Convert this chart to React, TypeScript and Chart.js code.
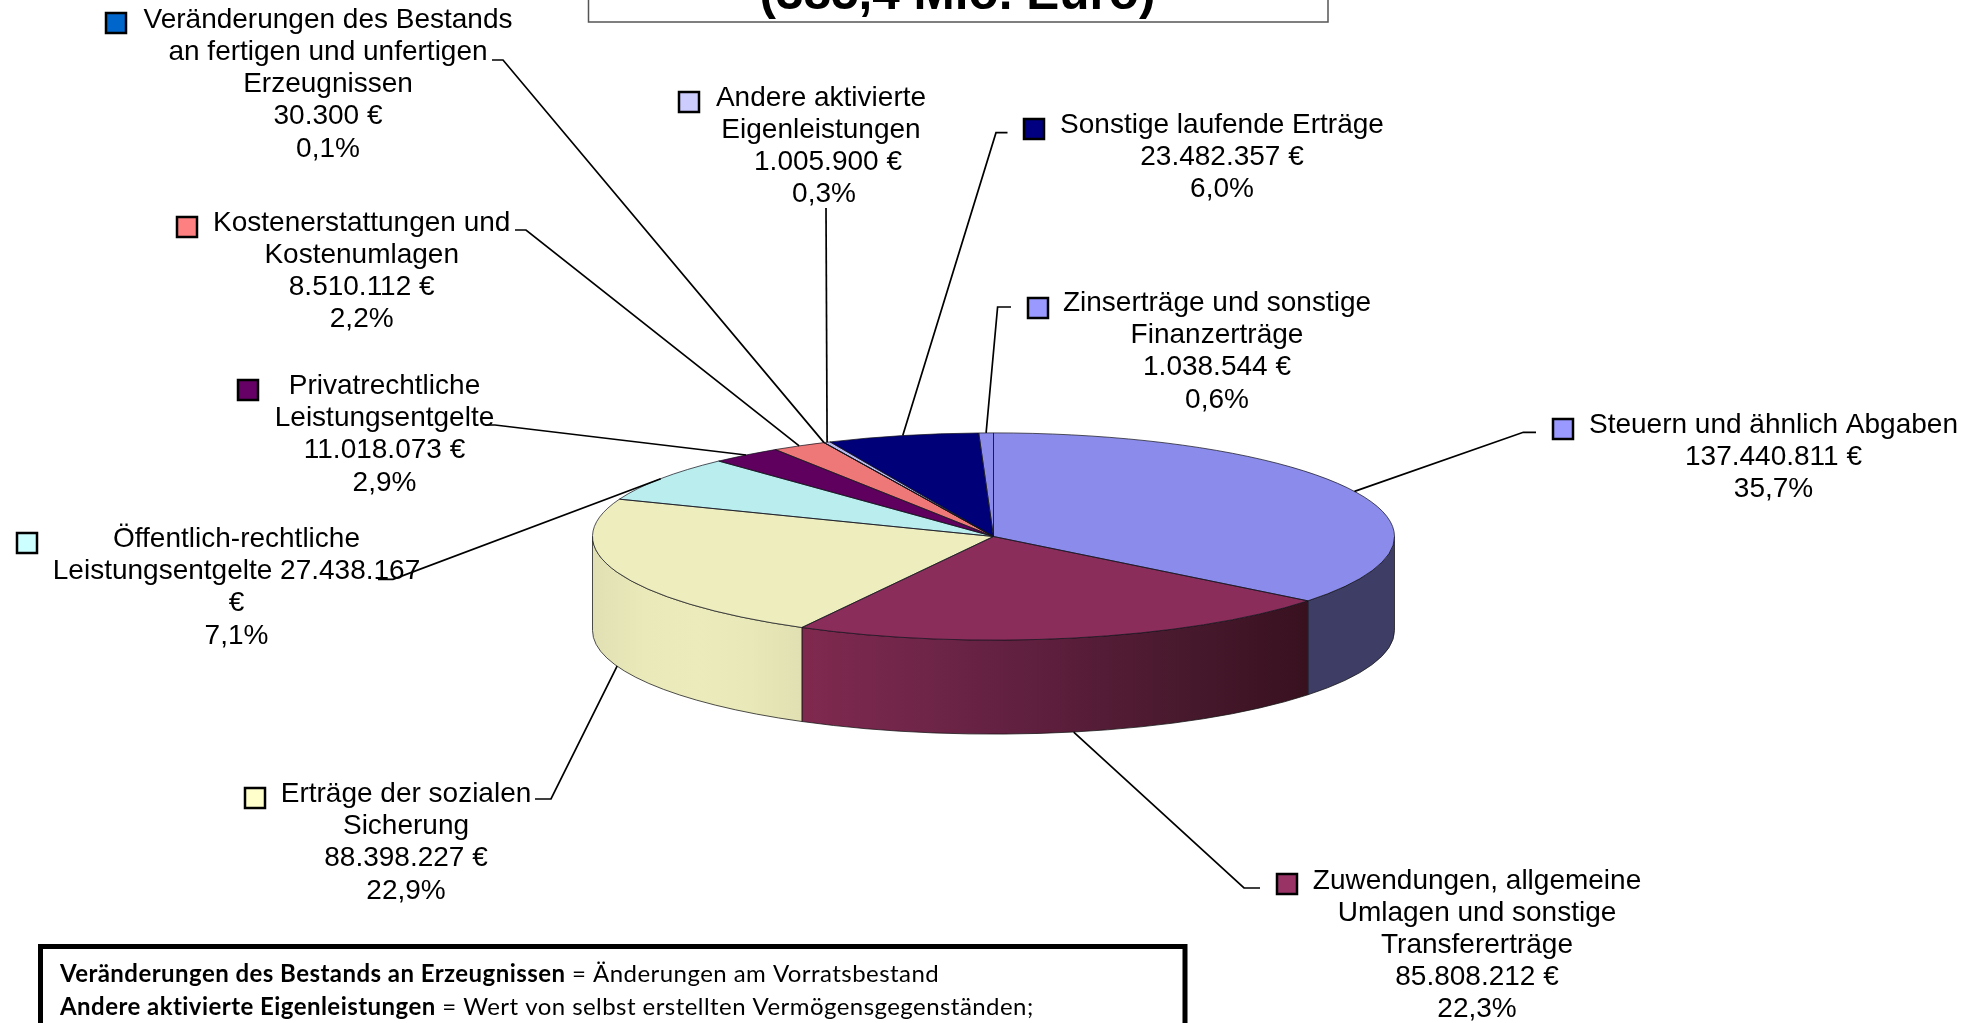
import React, { useEffect, useRef } from "react";
import { Chart, registerables } from "chart.js";

Chart.register(...registerables);

// ---- data ----
const categories = [
  "Steuern und ähnlich Abgaben",
  "Zuwendungen, allgemeine Umlagen und sonstige Transfererträge",
  "Erträge der sozialen Sicherung",
  "Öffentlich-rechtliche Leistungsentgelte",
  "Privatrechtliche Leistungsentgelte",
  "Kostenerstattungen und Kostenumlagen",
  "Veränderungen des Bestands an fertigen und unfertigen Erzeugnissen",
  "Andere aktivierte Eigenleistungen",
  "Sonstige laufende Erträge",
  "Zinserträge und sonstige Finanzerträge",
];
// Slice sizes as drawn (Zinserträge is drawn at its 0,6% share)
const sliceValues = [137440811, 85808212, 88398227, 27438167, 11018073, 8510112, 30300, 1005900, 23482357, 2260000];
const labelLines = [
  ["Steuern und ähnlich Abgaben", "137.440.811 €", "35,7%"],
  ["Zuwendungen, allgemeine", "Umlagen und sonstige", "Transfererträge", "85.808.212 €", "22,3%"],
  ["Erträge der sozialen", "Sicherung", "88.398.227 €", "22,9%"],
  ["Öffentlich-rechtliche", "Leistungsentgelte 27.438.167", "€", "7,1%"],
  ["Privatrechtliche", "Leistungsentgelte", "11.018.073 €", "2,9%"],
  ["Kostenerstattungen und", "Kostenumlagen", "8.510.112 €", "2,2%"],
  ["Veränderungen des Bestands", "an fertigen und unfertigen", "Erzeugnissen", "30.300 €", "0,1%"],
  ["Andere aktivierte", "Eigenleistungen", "1.005.900 €", "0,3%"],
  ["Sonstige laufende Erträge", "23.482.357 €", "6,0%"],
  ["Zinserträge und sonstige", "Finanzerträge", "1.038.544 €", "0,6%"],
];
const titleText = "(385,4 Mio. Euro)";
const noteLines = [
  ["Veränderungen des Bestands an Erzeugnissen", " = Änderungen am Vorratsbestand"],
  ["Andere aktivierte Eigenleistungen", " = Wert von selbst erstellten Vermögensgegenständen;"],
];

// ---- styles & layout ----
const faceColors = ["#8B8BEB", "#8B2D5B", "#EDEDBD", "#BAEEEE", "#5F005F", "#EE7777", "#0060C0", "#B8B8F0", "#000078", "#8B8BEB"];
const keyColors = ["#9999FF", "#993366", "#FFFFCC", "#CCFFFF", "#660066", "#FF8080", "#0066CC", "#CCCCFF", "#000080", "#9999FF"];
const sideStops: string[][] = [
  ["#3D3D66", "#3D3D66"],
  ["#80294F", "#6E2548", "#5C1E3C", "#48192D", "#38111F"],
  ["#E0E0B4", "#E9E9B9", "#EBEBBB", "#E8E8B8", "#E0E0B2"],
  ["#BAEEEE", "#BAEEEE"], ["#5F005F", "#5F005F"], ["#EE7777", "#EE7777"], ["#0060C0", "#0060C0"],
  ["#B8B8F0", "#B8B8F0"], ["#000078", "#000078"], ["#8B8BEB", "#8B8BEB"],
];
const CX = 993.5, CY = 536.5, RX = 401, RY = 103.6, DEPTH = 94;
const LINE_H = 32.2;
const FONT = '28px "Liberation Sans", Arial, sans-serif';

type Layout = { cx: number; base: number; key: [number, number]; elbow: [number, number][]; dx?: number[] };
const layouts: Layout[] = [
  { cx: 1773.5, base: 432.8, key: [1552, 418], elbow: [[1536, 432.3], [1523.3, 432.3]] },
  { cx: 1477, base: 888.5, key: [1276, 873], elbow: [[1260, 888], [1244, 888]] },
  { cx: 406, base: 802, key: [244, 787], elbow: [[535, 799], [551, 799]] },
  { cx: 236.5, base: 547, key: [16, 532], elbow: [[378, 579.3], [393, 579.3]] },
  { cx: 384.5, base: 394, key: [237, 379], elbow: [[485, 425], [495, 425]] },
  { cx: 361.7, base: 230.7, key: [176, 216], elbow: [[515, 230], [526, 230]] },
  { cx: 328, base: 27.8, key: [105, 12], elbow: [[492, 60], [503, 60]] },
  { cx: 821, base: 105.5, key: [678, 91], elbow: [[826, 208]], dx: [0, 0, 7, 3] },
  { cx: 1222, base: 133, key: [1023, 118], elbow: [[1007.5, 132.7], [996, 132.7]] },
  { cx: 1217, base: 311, key: [1027, 297], elbow: [[1011, 307], [997.6, 307]] },
];

const pointAt = (a: number, drop = 0): [number, number] => [CX + RX * Math.cos(a), CY + RY * Math.sin(a) + drop];

const pie3d = {
  id: "pie3d",
  beforeDatasetsDraw(chart: any) {
    const ctx: CanvasRenderingContext2D = chart.ctx;
    const arcs = chart.getDatasetMeta(0).data;
    ctx.save();
    arcs.forEach((arc: any, i: number) => {
      for (const off of [0, Math.PI * 2, -Math.PI * 2]) {
        const a = Math.max(arc.startAngle + off, 0);
        const b = Math.min(arc.endAngle + off, Math.PI);
        if (b <= a) continue;
        const xa = pointAt(a)[0], xb = pointAt(b)[0];
        const g = ctx.createLinearGradient(xb, 0, xa, 0);
        const stops = sideStops[i];
        stops.forEach((c, s) => g.addColorStop(s / (stops.length - 1), c));
        ctx.beginPath();
        ctx.ellipse(CX, CY, RX, RY, 0, a, b);
        ctx.ellipse(CX, CY + DEPTH, RX, RY, 0, b, a, true);
        ctx.closePath();
        ctx.fillStyle = g;
        ctx.fill();
        ctx.strokeStyle = "rgba(20,20,20,0.75)";
        ctx.lineWidth = 1;
        ctx.stroke();
      }
    });
    ctx.restore();
    // the library's own arcs are drawn through this squash
    ctx.save();
    ctx.translate(CX, CY);
    ctx.scale(1, RY / RX);
    ctx.translate(-CX, -CY);
  },
  afterDatasetsDraw(chart: any) {
    const ctx: CanvasRenderingContext2D = chart.ctx;
    ctx.restore();
    const arcs = chart.getDatasetMeta(0).data;
    ctx.save();
    ctx.lineWidth = 1;
    arcs.forEach((arc: any) => {
      ctx.beginPath();
      ctx.moveTo(CX, CY);
      ctx.ellipse(CX, CY, RX, RY, 0, arc.startAngle, arc.endAngle);
      ctx.closePath();
      ctx.strokeStyle = "rgba(20,20,30,0.72)";
      ctx.stroke();
    });
    ctx.restore();
  },
  afterDraw(chart: any) {
    const ctx: CanvasRenderingContext2D = chart.ctx;
    const arcs = chart.getDatasetMeta(0).data;
    ctx.save();

    // leader lines
    ctx.strokeStyle = "#000";
    ctx.lineWidth = 1.7;
    arcs.forEach((arc: any, i: number) => {
      const mid = (arc.startAngle + arc.endAngle) / 2;
      const inFront = Math.sin(mid) > 0;
      const end = pointAt(mid, inFront ? DEPTH : 0);
      ctx.beginPath();
      layouts[i].elbow.forEach(([x, y], k) => (k ? ctx.lineTo(x, y) : ctx.moveTo(x, y)));
      ctx.lineTo(end[0], end[1]);
      ctx.stroke();
    });

    // keys and label text
    ctx.font = FONT;
    ctx.fillStyle = "#000";
    ctx.textAlign = "center";
    ctx.textBaseline = "alphabetic";
    labelLines.forEach((lines, i) => {
      const l = layouts[i];
      lines.forEach((t, k) => ctx.fillText(t, l.cx + (l.dx ? l.dx[k] : 0), l.base + k * LINE_H));
      ctx.fillStyle = keyColors[i];
      ctx.fillRect(l.key[0] + 1, l.key[1] + 1, 20, 20);
      ctx.strokeStyle = "#000";
      ctx.lineWidth = 2.5;
      ctx.strokeRect(l.key[0] + 1, l.key[1] + 1, 20, 20);
      ctx.fillStyle = "#000";
    });

    // title box
    ctx.fillStyle = "#fff";
    ctx.fillRect(588, -5, 740, 27);
    ctx.strokeStyle = "#555";
    ctx.lineWidth = 1.5;
    ctx.strokeRect(588.5, -5, 739.5, 27);
    ctx.fillStyle = "#000";
    ctx.font = 'bold 49.5px "Liberation Sans", Arial, sans-serif';
    ctx.fillText(titleText, 957.5, 9);

    // note box
    ctx.strokeStyle = "#000";
    ctx.lineWidth = 5;
    ctx.beginPath();
    ctx.moveTo(40.5, 1040);
    ctx.lineTo(40.5, 946.5);
    ctx.lineTo(1185, 946.5);
    ctx.lineTo(1185, 1040);
    ctx.stroke();
    ctx.textAlign = "left";
    (ctx as any).letterSpacing = "0.45px";
    noteLines.forEach(([b, r], i) => {
      const y = 982 + i * 33;
      ctx.font = 'bold 24px Lato, sans-serif';
      ctx.fillText(b, 60, y);
      const w = ctx.measureText(b).width;
      ctx.font = '24px Lato, sans-serif';
      ctx.fillText(r, 60 + w, y);
    });
    ctx.restore();
  },
};

export default function App() {
  const ref = useRef<HTMLCanvasElement>(null);
  useEffect(() => {
    const chart = new Chart(ref.current!, {
      type: "pie",
      data: {
        labels: categories,
        datasets: [{ data: sliceValues, backgroundColor: faceColors, borderWidth: 0, radius: RX }],
      },
      options: {
        animation: false,
        responsive: false,
        layout: { padding: { left: 7, top: 50, right: 0, bottom: 0 } },
        plugins: { legend: { display: false }, tooltip: { enabled: false }, title: { display: false } },
      },
      plugins: [pie3d],
    } as any);
    return () => chart.destroy();
  }, []);
  return (
    <canvas
      ref={ref}
      width={1980}
      height={1023}
      style={{ position: "absolute", left: 0, top: 0, width: 1980, height: 1023, background: "#fff" }}
    />
  );
}
